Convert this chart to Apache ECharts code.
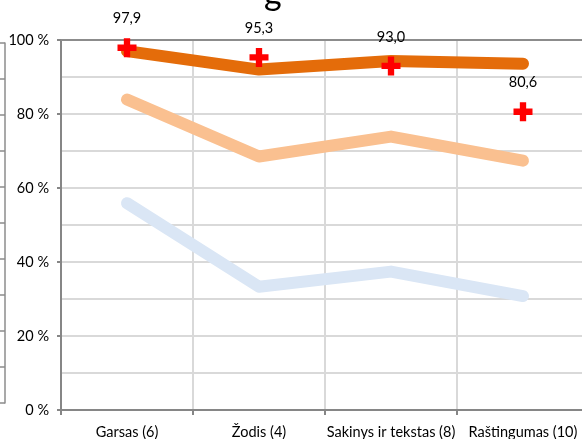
<!DOCTYPE html>
<html>
<head>
<meta charset="utf-8">
<script src="https://cdn.jsdelivr.net/npm/echarts@6/dist/echarts.min.js"></script>
<style>html,body{margin:0;padding:0;background:#fff}#c{width:582px;height:439px}</style>
</head>
<body>
<div id="c"></div>
<script>
var categories = ['Garsas (6)', 'Žodis (4)', 'Sakinys ir tekstas (8)', 'Raštingumas (10)'];
var darkOrange = [97.0, 92.0, 94.3, 93.6];
var lightOrange = [83.9, 68.5, 73.9, 67.4];
var lightBlue = [55.9, 33.3, 37.4, 30.8];
var crossValues = [97.9, 95.3, 93.0, 80.6];
var yTicks = [0, 20, 40, 60, 80, 100];

var font = 'Lato';
var fs = 14.5;
var chart = echarts.init(document.getElementById('c'), null, {renderer: 'canvas'});
function lineSeries(data, color) {
  return {
    type: 'line', data: data, symbol: 'none', silent: true,
    lineStyle: {color: color, width: 12, cap: 'round', join: 'round'},
    animation: false
  };
}
chart.setOption({
  animation: false,
  textStyle: {fontFamily: font},
  graphic: [{
    type: 'text', left: 264, top: -23,
    style: {text: 'g', fontFamily: font, fontSize: 34, fill: '#000'}
  }],
  grid: [
    {left: 61, right: -7, top: 40, bottom: 29, containLabel: false, outerBoundsMode: 'none'},
    {left: 5, width: 1, top: 43, bottom: 36, containLabel: false, outerBoundsMode: 'none'}
  ],
  xAxis: [{
    type: 'category', data: categories, gridIndex: 0, boundaryGap: true,
    axisLine: {lineStyle: {color: '#868686', width: 2}},
    axisTick: {show: true, length: 5, lineStyle: {color: '#868686', width: 2}},
    axisLabel: {interval: 0, color: '#000', fontSize: fs, margin: 15, fontFamily: font},
    splitLine: {show: true, lineStyle: {color: '#D9D9D9', width: 2}}
  }, {
    type: 'category', data: categories, gridIndex: 0, position: 'top',
    axisLine: {lineStyle: {color: '#8C8C8C', width: 2}},
    axisTick: {show: false}, axisLabel: {show: false}, splitLine: {show: false}
  }, {
    type: 'value', gridIndex: 1, show: false
  }],
  yAxis: [{
    type: 'value', gridIndex: 0, min: yTicks[0], max: yTicks[yTicks.length - 1], interval: 20,
    axisLine: {show: true, lineStyle: {color: '#868686', width: 2}},
    axisTick: {show: true, length: 4, lineStyle: {color: '#868686', width: 2}},
    axisLabel: {color: '#000', fontSize: fs, margin: 12, fontFamily: font,
      formatter: function (v) { return v + ' %'; }},
    splitLine: {show: true, lineStyle: {color: '#D9D9D9', width: 2}},
    minorTick: {show: false, splitNumber: 2},
    minorSplitLine: {show: true, lineStyle: {color: '#D9D9D9', width: 2}}
  }, {
    type: 'value', gridIndex: 1, min: 0, max: 10, interval: 1,
    axisLine: {show: true, lineStyle: {color: '#8C8C8C', width: 1.5}},
    axisTick: {show: true, length: 5, lineStyle: {color: '#8C8C8C', width: 1.5}},
    axisLabel: {show: false}, splitLine: {show: false}
  }],
  series: [
    lineSeries(lightBlue, '#DAE6F5'),
    lineSeries(lightOrange, '#FAC090'),
    lineSeries(darkOrange, '#E46C0A'),
    {
      type: 'scatter', data: crossValues, silent: true,
      symbol: 'path://M1,0H2V1H3V2H2V3H1V2H0V1H1Z', symbolSize: [19, 19],
      itemStyle: {color: '#FF0000', opacity: 1},
      label: {show: true, position: 'top', distance: 12, color: '#000', fontSize: fs, fontFamily: font,
        formatter: function (p) { return p.value.toFixed(1).replace('.', ','); }},
      z: 5
    }
  ]
});
</script>
</body>
</html>
